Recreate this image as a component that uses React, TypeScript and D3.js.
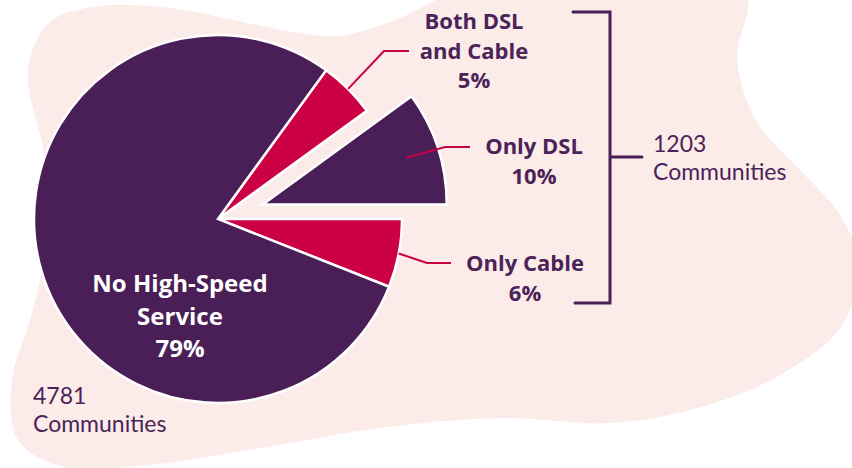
import React from "react";
import * as d3 from "d3";

const categories = ["Both DSL and Cable", "Only DSL", "Only Cable", "No High-Speed Service"];
const values = [5, 10, 6, 79];
const labelLines = [["Both DSL", "and Cable", "5%"], ["Only DSL", "10%"], ["Only Cable", "6%"], ["No High-Speed", "Service", "79%"]];
const colorsBySlice = ["#CC0044", "#4A1F57", "#CC0044", "#4A1F57"];
const explodeBy = [0, 47, 0, 0];
const groupLabels = ["1203", "Communities"];
const totalLabels = ["4781", "Communities"];

const W = 852;
const H = 468;
const cx = 218;
const cy = 219;
const R = 184;
const PURPLE = "#4A1F57";
const TEXT = "#4B2358";
const PINK = "#FBECE9";

// layout of the outside labels: leader start fraction of radius, elbow, end, label centre
const leaderLayout = [
  { rf: 1.0, elbow: [384, 51], end: 409, lx: 474, ly: 29 },
  { rf: 0.82, elbow: [445, 147], end: 470, lx: 534, ly: 154 },
  { rf: 1.0, elbow: [427, 263], end: 451, lx: 525, ly: 271 },
];

const blobPts: [number, number][] = [
  [28, 70], [50, 22], [100, 6], [170, 8], [233, 20], [300, 33], [340, 36], [400, 18], [450, -5],
  [600, -20], [745, -8], [737, 60], [757, 122], [800, 170], [840, 215], [862, 270], [852, 305],
  [833, 337], [767, 382], [690, 410], [610, 423], [500, 418], [380, 428], [250, 450], [140, 466],
  [60, 466], [18, 440], [12, 380], [30, 320], [45, 250], [45, 160],
];

export default function App() {
  const pie = d3
    .pie<number>()
    .sort(null)
    .startAngle((36 * Math.PI) / 180)
    .endAngle((396 * Math.PI) / 180);
  const arcs = pie(values);
  const arc = d3.arc<d3.PieArcDatum<number>>().innerRadius(0).outerRadius(R);
  const blob = d3.line().curve(d3.curveCatmullRomClosed.alpha(0.5))(blobPts) || "";

  const offsets = arcs.map((a, i) => {
    const m = (a.startAngle + a.endAngle) / 2;
    return [Math.sin(m) * explodeBy[i], -Math.cos(m) * explodeBy[i]];
  });

  return (
    <svg width={W} height={H} viewBox={`0 0 ${W} ${H}`} style={{ display: "block", position: "absolute", left: 0, top: 0 }}>
      <rect width={W} height={H} fill="#ffffff" />
      <path d={blob} fill={PINK} />
      <g transform={`translate(${cx},${cy})`}>
        {arcs.map((a, i) => (
          <path
            key={categories[i]}
            d={arc(a) || ""}
            transform={`translate(${offsets[i][0]},${offsets[i][1]})`}
            fill={colorsBySlice[i]}
            stroke="#ffffff"
            strokeWidth={2.5}
            strokeLinejoin="miter"
          />
        ))}
      </g>
      {leaderLayout.map((L, i) => {
        const a = arcs[i];
        const m = (a.startAngle + a.endAngle) / 2;
        const sx = cx + offsets[i][0] + Math.sin(m) * R * L.rf;
        const sy = cy + offsets[i][1] - Math.cos(m) * R * L.rf;
        return (
          <polyline
            key={"l" + i}
            points={`${sx},${sy} ${L.elbow[0]},${L.elbow[1]} ${L.end},${L.elbow[1]}`}
            fill="none"
            stroke="#CC0044"
            strokeWidth={2}
          />
        );
      })}
      {leaderLayout.map((L, i) => (
        <text
          key={"t" + i}
          x={L.lx}
          y={L.ly}
          textAnchor="middle"
          fontFamily="'Open Sans', sans-serif"
          fontWeight={700}
          fontSize={22}
          fill={TEXT}
        >
          {labelLines[i].map((s, j) => (
            <tspan key={j} x={L.lx} dy={j === 0 ? 0 : 29.5}>
              {s}
            </tspan>
          ))}
        </text>
      ))}
      <text x={180} y={292} textAnchor="middle" fontFamily="'Open Sans', sans-serif" fontWeight={700} fontSize={24} fill="#ffffff">
        {labelLines[3].map((s, j) => (
          <tspan key={j} x={180} dy={j === 0 ? 0 : 32.5}>
            {s}
          </tspan>
        ))}
      </text>
      <path d="M573,12 H610 V303 H575 M610,157 H642" fill="none" stroke={PURPLE} strokeWidth={3} strokeLinecap="round" />
      <text x={653} y={152} fontFamily="Lato, sans-serif" fontSize={23} fill={TEXT}>
        {groupLabels.map((s, j) => (
          <tspan key={j} x={653} dy={j === 0 ? 0 : 28}>
            {s}
          </tspan>
        ))}
      </text>
      <text x={33} y={404} fontFamily="Lato, sans-serif" fontSize={23} fill={TEXT}>
        {totalLabels.map((s, j) => (
          <tspan key={j} x={33} dy={j === 0 ? 0 : 28}>
            {s}
          </tspan>
        ))}
      </text>
    </svg>
  );
}
